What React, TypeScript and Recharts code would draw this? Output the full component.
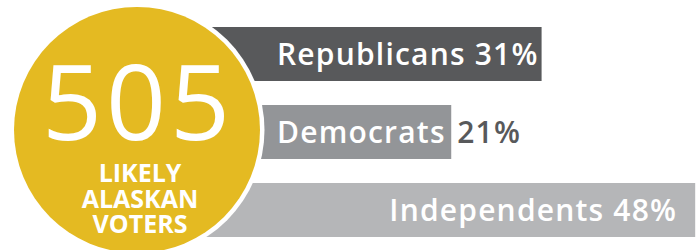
import React from 'react';
import { BarChart, Bar, XAxis, YAxis, LabelList, Cell } from 'recharts';

const parties = ['Republicans', 'Democrats', 'Independents'];
const shares = [31, 21, 48];
const barColors = ['#58595B', '#939598', '#B5B6B8'];
const sampleSize = '505';
const subtitleLines = ['LIKELY', 'ALASKAN', 'VOTERS'];

const data = parties.map((party, i) => ({ party, share: shares[i] }));

const W = 697;
const H = 250;
const AXIS_MIN = -14;
const AXIS_MAX = 48.2;
const GOLD = '#E4BA22';
const DARK = '#58595B';
const FONT = '"Open Sans", "Noto Sans", sans-serif';
const LABEL_X = 277;

const renderLabel = (props: any) => {
  const { x, y, width, height, index } = props;
  const baseY = y + height / 2 + 11;
  const end = x + width;
  const name = parties[index];
  const pct = `${shares[index]}%`;
  const common = {
    fontFamily: FONT,
    fontWeight: 600,
    fontSize: 30,
    letterSpacing: 1.2,
  } as any;
  if (index === 2) {
    return (
      <text x={end - 18} y={baseY} textAnchor="end" fill="#fff" {...common}>
        {`${name} ${pct}`}
      </text>
    );
  }
  if (index === 1) {
    return (
      <text x={LABEL_X} y={baseY} fill="#fff" {...common}>
        <tspan>{name}</tspan>
        <tspan x={end + 6} fill={DARK}>{pct}</tspan>
      </text>
    );
  }
  return (
    <text x={LABEL_X} y={baseY} fill="#fff" {...common}>
      {`${name} ${pct}`}
    </text>
  );
};

export default function App() {
  return (
    <div style={{ position: 'absolute', left: 0, top: 0, width: W, height: H, background: '#fff' }}>
      <BarChart
        width={W}
        height={H}
        data={data}
        layout="vertical"
        margin={{ top: 15, right: 0, bottom: 1, left: 135 }}
        barCategoryGap={0}
      >
        <XAxis type="number" domain={[AXIS_MIN, AXIS_MAX]} allowDataOverflow hide />
        <YAxis type="category" dataKey="party" hide />
        <Bar
          dataKey={(d: any) => [AXIS_MIN, d.share]}
          barSize={54}
          isAnimationActive={false}
        >
          {data.map((d, i) => (
            <Cell key={d.party} fill={barColors[i]} />
          ))}
          <LabelList content={renderLabel} />
        </Bar>
      </BarChart>
      <svg
        width={W}
        height={H}
        style={{ position: 'absolute', left: 0, top: 0, pointerEvents: 'none' }}
      >
        <circle cx={137} cy={130} r={127.5} fill="#fff" />
        <circle cx={137} cy={130} r={123} fill={GOLD} />
        <text
          x={138}
          y={140}
          textAnchor="middle"
          fill="#fff"
          fontFamily={FONT}
          fontWeight={400}
          fontSize={105}
          letterSpacing={4}
        >
          {sampleSize}
        </text>
        <text
          textAnchor="middle"
          fill="#fff"
          fontFamily={FONT}
          fontWeight={700}
          fontSize={25}
        >
          {subtitleLines.map((line, i) => (
            <tspan key={line} x={140} y={182 + i * 25.7}>
              {line}
            </tspan>
          ))}
        </text>
      </svg>
    </div>
  );
}
